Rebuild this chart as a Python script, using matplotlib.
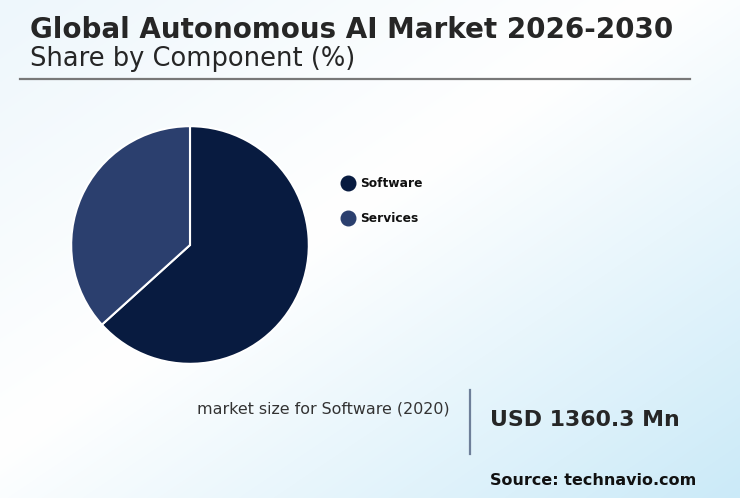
import numpy as np
import matplotlib
matplotlib.use("Agg")
import matplotlib.pyplot as plt
from matplotlib.colors import LinearSegmentedColormap

plt.rcParams["font.family"] = ["DejaVu Sans"]

# ---- data ----
categories = ["Software", "Services"]
shares = [63.3, 36.7]
colors = ["#081b40", "#2b3f6e"]
title = "Global Autonomous AI Market 2026-2030"
subtitle = "Share by Component (%)"
kpi_label = "market size for Software (2020)"
kpi_value = "USD 1360.3 Mn"
source = "Source: technavio.com"

W, H = 740, 498
fig = plt.figure(figsize=(W / 100, H / 100), dpi=100)

# background gradient (full-figure overlay axes in pixel coords)
bg = fig.add_axes([0, 0, 1, 1], zorder=0)
bg.set_xlim(0, W)
bg.set_ylim(H, 0)
bg.axis("off")
yy, xx = np.mgrid[0:H, 0:W]
t = (xx / W + yy / H) / 2.0
cmap = LinearSegmentedColormap.from_list(
    "bgc", [(0.0, "#eef7fc"), (0.45, "#ffffff"), (1.0, "#cbeaf8")])
bg.imshow(cmap(t), extent=(0, W, H, 0), aspect="auto", interpolation="bilinear")

# titles and divider
bg.text(30, 30, title, fontsize=20, fontweight="bold",
        color="#262626", va="center", ha="left")
bg.text(30, 59, subtitle, fontsize=18.5, color="#262626",
        va="center", ha="left")
bg.plot([20, 690], [79, 79], color="#787878", lw=1.6)

# pie
cx, cy, r = 190, 245, 120
pax = fig.add_axes([(cx - r) / W, 1 - (cy + r) / H, 2 * r / W, 2 * r / H], zorder=2)
pax.pie(shares, colors=colors, startangle=90, counterclock=False, radius=1,
        wedgeprops=dict(edgecolor="white", linewidth=1.5))
pax.set_xlim(-1.01, 1.01)
pax.set_ylim(-1.01, 1.01)
pax.axis("off")

# legend
ov = fig.add_axes([0, 0, 1, 1], zorder=3)
ov.set_xlim(0, W)
ov.set_ylim(H, 0)
ov.axis("off")
ov.patch.set_alpha(0)
for i, (lab, col) in enumerate(zip(categories, colors)):
    y = 183 + 35 * i
    ov.scatter([348], [y], s=110, color=col, zorder=4)
    ov.text(360, y, lab, fontsize=8.8, fontweight="bold", color="#111111",
            va="center", ha="left")

# KPI
ov.text(450, 409, kpi_label, fontsize=11.4, color="#333333", va="center", ha="right")
ov.plot([470, 470], [390, 454], color="#6e7f99", lw=1.6)
ov.text(490, 420, kpi_value, fontsize=15.8, fontweight="bold", color="#262626",
        va="center", ha="left")
ov.text(490, 480, source, fontsize=11.5, fontweight="bold", color="#111111",
        va="center", ha="left")

fig.savefig("out.png", dpi=100)
